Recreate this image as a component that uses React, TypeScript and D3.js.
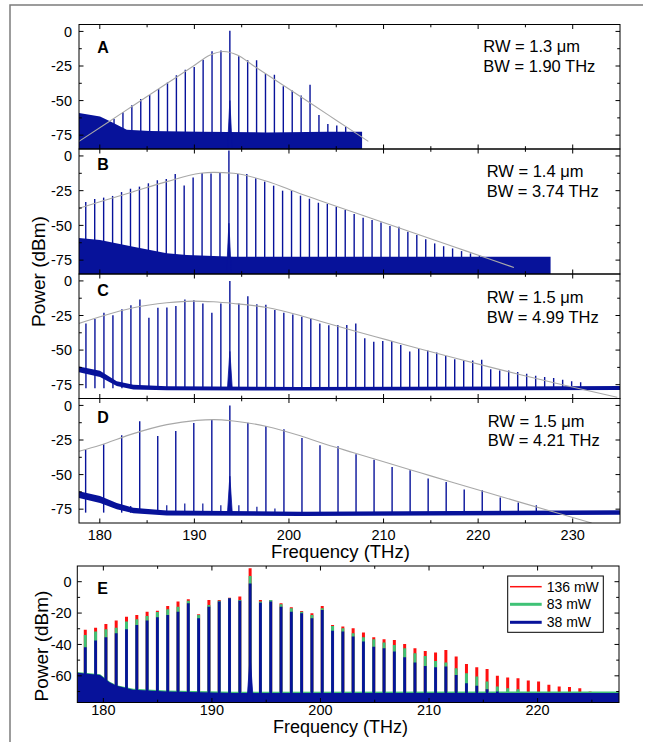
import React from "react";
import * as d3 from "d3";

type Pt = [number, number];

const FONT = "'Liberation Sans', Arial, Helvetica, sans-serif";
const BLUE = "#07129a";
const GRAY = "#a8a8a8";

// ---------- panel A (RW 1.3 um) ----------
const pumpA = 193.75;
const fsrA = 0.942;
const startA = -13;
const combA = [-63.3, -58.5, -53.4, -48.8, -45.9, -41.7, -36.9, -31.6, -27.7, -25.7, -20.4, -14.3, -13.8, 0.5,
  -18, -20.9, -20.9, -30.6, -31.3, -39.6, -42.7, -46.4, -38.6, -60.4, -67, -68, -69];
const noiseFreqA = [177.8, 180.02, 181.08, 182.85, 185.3, 190.6, 197.67, 204.02, 207.73];
const noiseTopA = [-59, -61.5, -65, -71, -72, -72.5, -73, -72.5, -72.5];
const envA: Pt[] = [[177.8, -79.5], [181.08, -64.7], [183.55, -53.6], [187.08, -37.7], [189.9, -25], [191.67, -17],
  [193.1, -14.5], [194.53, -17], [196.29, -25], [199.11, -37.7], [202.65, -53.6], [205.11, -64.7], [208.39, -79.5]];

// ---------- panel B (RW 1.4 um) ----------
const pumpB = 193.65;
const fsrB = 0.946;
const startB = -16;
const combB = [-33.2, -31, -30, -28.8, -26, -23.6, -22.1, -19.7, -17.5, -16.6, -13, -21.2, -15.6, -12.3, -12.7, -12, 4,
  -13, -13, -16.1, -18.5, -21.4, -25, -25, -28.6, -30.8, -33.7, -34.5,
  -36.5, -38.9, -41.8, -44.5, -46.2, -48, -50.5, -51, -54.6, -57, -60, -63, -65, -66.6, -68.5, -70.2, -71.4];
const noiseFreqB = [177.8, 180.02, 183.55, 187.08, 189.2, 194.14, 227.66];
const noiseTopB = [-59, -60.6, -65.4, -70, -71.4, -72.6, -72.5];
const envB: Pt[] = [[177.8, -37.7], [180.02, -33], [183.55, -25.7], [187.08, -18.5], [190.61, -12.5], [192.02, -11.8],
  [194.13, -12.5], [197.67, -18.2], [201.2, -27.2], [203.31, -32.2], [206.84, -40.5], [210.37, -48.8], [213.9, -57.1],
  [217.43, -65.4], [220.96, -73.7], [223.78, -80.3]];

// ---------- panel C (RW 1.5 um) ----------
const pumpC = 193.75;
const fsrC = 0.951;
const startC = -16;
const combC = [-30.7, -27.6, -23, -24.9, -20.4, -17.5, -13.4, -26.6, -19.4, -19.2, -18.2, -13.4, -13.9, -16.3, -23, -16.3, 0,
  -16.3, -11, -16.8, -17.3, -21.1, -23, -24.2, -25.9, -27.1, -30.7, -32,
  -31.9, -31.9, -30.7, -41.5, -43.9, -43.4, -43.4, -46.3, -51, -49.1, -50.3, -51.8, -54.2, -56.6, -57.5, -57.5, -57,
  -63.8, -64.7, -64.7, -65.9, -67.1, -68.6, -69.5, -70.2, -71.4, -72.6, -73.3];
const noiseFreqC = [177.8, 180.02, 181.79, 183.55, 187.08, 201.2, 235.1];
const noiseTopC = [-61.8, -65, -72.5, -75, -76.2, -76.7, -76];
const noiseBotC = [-66, -69.5, -76, -78.5, -79, -79.3, -78.8];
const envC: Pt[] = [[177.8, -30.7], [180.02, -25.9], [183.55, -19.4], [187.08, -15.8], [189.9, -14.6], [192.02, -15.1],
  [194.13, -16.3], [197.67, -19.2], [201.2, -25], [203.31, -29.2], [206.84, -36], [210.37, -42.6], [213.9, -49.2],
  [217.43, -55.6], [220.96, -61.8], [224.49, -67.8], [228.01, -73.6], [231.55, -79.2], [234.72, -84.1]];

// ---------- panel D (RW 1.5 um, double spacing) ----------
const pumpD = 193.75;
const fsrD = 1.906;
const startD = -8;
const combD = [-32, -28.1, -21.6, -11.5, -22.1, -18.5, -12.7, -10.3, 0,
  -12.5, -14.9, -17.3, -23.6, -28.8, -29.5, -35.3, -39.2, -44.5, -46.9, -52.9, -55.3, -60.8, -61.3, -66.6, -70.2, -72.1];
const subLinesD: Pt[] = [[-5.5, -72.8], [-3.5, -72.1], [-2.5, -70.9], [-1.5, -70.9], [-0.5, -72.1], [0.5, -72.1],
  [1.5, -73.3], [2.5, -74.5]];
const noiseFreqD = [177.8, 180.02, 181.79, 183.55, 187.08, 201.2, 235.1];
const noiseTopD = [-62, -65.5, -70.5, -74, -76, -76.8, -75.8];
const noiseBotD = [-67, -70.5, -75, -78, -79.5, -80, -79];
const envD: Pt[] = [[177.8, -33.2], [180.02, -28.8], [183.55, -20.4], [187.08, -13.9], [190.25, -10.8], [192.02, -10.3],
  [194.13, -11.3], [197.67, -15.2], [201.2, -22], [203.31, -26.8], [206.84, -34.2], [210.37, -41.5], [213.9, -48.7],
  [217.43, -55.9], [220.96, -63], [224.49, -70.1], [228.01, -77.1], [232, -85]];

// ---------- panel E (pump power series) ----------
const pumpE = 193.52;
const fsrE = 0.949;
const startE = -16;
const powerLabels = ["136 mW", "83 mW", "38 mW"];
const combE136 = [-30.7, -29.3, -26.9, -24.8, -22.3, -21.2, -19.1, -18.5, -15.5, -12.7, -11.2, -20.8, -11.7, -11.7, -10.2, -9.5, 8.5,
  -11.7, -11.7, -13.8, -16.3, -18.7, -20.1, -15.5,
  -27.6, -28.6, -29.7, -32.4, -35.4, -36.7, -37.1, -39.7, -42.4, -44.1, -45.2, -43.5, -47.7, -52.4, -54.5, -55.6,
  -60, -61.1, -61.5, -63, -63.6, -65.7, -66.8, -67.2, -67.9, -70, -70.6, -70.6];
const combE83 = [-33.9, -31.8, -30.3, -29.3, -25.4, -24, -21.8, -19.3, -17.6, -15.9, -12.1, -21.2, -14.8, -12.1, -10.6, -11.7, 3.6,
  -12.7, -11.7, -14.4, -17, -19.1, -21.2, -17,
  -28.2, -29.7, -32.9, -35.4, -36.7, -38.8, -40.3, -42.4, -45.6, -47.3, -50.5, -51.5, -55.1, -58.3, -60.4, -63.6,
  -66.8, -67.9, -68.5];
const combE38 = [-41.8, -37.5, -35.4, -32.9, -30.3, -27.6, -24.8, -22.7, -21.2, -19.1, -13.8, -23.3, -15.9, -12.7, -10.6, -12.1, -1.1,
  -13.4, -12.7, -15.9, -19.1, -20.1, -23.3, -18,
  -31.2, -31.8, -35, -38.2, -41.4, -42.4, -44.5, -48.1, -51.5, -53.7, -54.5, -54.1, -59.4, -64.7, -66.4, -68.5, -70];
const noiseFreqE = [177.6, 179.7, 180.6, 181.23, 182.76, 185.84, 191.98, 227.5];
const noiseTopE136 = [-58, -59.5, -64.2, -66.3, -68.7, -69.8, -70.5, -70.4];
const noiseTopE83 = [-57.5, -59, -63.8, -66, -68.3, -69.4, -70.2, -70];
const noiseTopE38 = [-58, -59.4, -64.3, -66.4, -68.9, -70, -71, -71];

// ---------- axes ----------
const freqTicksABCD = [180, 190, 200, 210, 220, 230];
const freqMinorABCD = [185, 195, 205, 215, 225];
const dbTicksABCD = [0, -25, -50, -75];
const dbMinorABCD = [-12.5, -37.5, -62.5];
const freqTicksE = [180, 190, 200, 210, 220];
const freqMinorE = [185, 195, 205, 215, 225];
const dbTicksE = [0, -20, -40, -60];
const dbMinorE = [-10, -30, -50, -70];

const xABCD = d3.scaleLinear().domain([177.8, 235]).range([79, 620]);
const xE = d3.scaleLinear().domain([177.6, 227.5]).range([77.3, 619]);

const panels = [
  { key: "A", top: 24.5, bottom: 149, pump: pumpA, fsr: fsrA, start: startA, comb: combA, nf: noiseFreqA, nt: noiseTopA, nb: null as number[] | null, env: envA, bump: -50, rw: "1.3", bw: "1.90", ly: 53.3, ax: 483.3, ay: 52.3 },
  { key: "B", top: 149, bottom: 274, pump: pumpB, fsr: fsrB, start: startB, comb: combB, nf: noiseFreqB, nt: noiseTopB, nb: null, env: envB, bump: -48.5, rw: "1.4", bw: "3.74", ly: 170, ax: 486.7, ay: 177.3 },
  { key: "C", top: 274, bottom: 398.5, pump: pumpC, fsr: fsrC, start: startC, comb: combC, nf: noiseFreqC, nt: noiseTopC, nb: noiseBotC, env: envC, bump: -51, rw: "1.5", bw: "4.99", ly: 296, ax: 486.7, ay: 303.3 },
  { key: "D", top: 398.5, bottom: 523, pump: pumpD, fsr: fsrD, start: startD, comb: combD, nf: noiseFreqD, nt: noiseTopD, nb: noiseBotD, env: envD, bump: -51.2, rw: "1.5", bw: "4.21", ly: 423.3, ax: 487.7, ay: 426.7 },
];

function Ticks({ x, y, x0, x1, y0, y1, xMaj, xMin, yMaj, yMin }: any) {
  const M = 4.5, m = 2.8;
  const segs: string[] = [];
  xMaj.forEach((t: number) => { const px = x(t); segs.push(`M${px},${y1}v${M}M${px},${y0}v${-M}`); });
  xMin.forEach((t: number) => { const px = x(t); segs.push(`M${px},${y1}v${m}M${px},${y0}v${-m}`); });
  yMaj.forEach((t: number) => { const py = y(t); segs.push(`M${x0},${py}h${M}M${x1},${py}h${-M}`); });
  yMin.forEach((t: number) => { const py = y(t); segs.push(`M${x0},${py}h${m}M${x1},${py}h${-m}`); });
  return <path d={segs.join("")} stroke="#000" strokeWidth={1} fill="none" />;
}

function Panel({ p, last }: { p: typeof panels[number]; last: boolean }) {
  const x = xABCD;
  const y = d3.scaleLinear().domain([-85, 5]).range([p.bottom, p.top]);
  const [x0, x1] = x.range();
  const clip = `clip-${p.key}`;
  const base = p.nb ? -77.5 : -85;
  const noise = p.nf.map((f, i) => [f, p.nt[i], p.nb ? p.nb[i] : -85]);
  const area = d3.area<number[]>().x((d) => x(d[0])).y0((d) => y(d[2])).y1((d) => y(d[1]));
  const env = d3.line<Pt>().x((d) => x(d[0])).y((d) => y(d[1])).curve(d3.curveMonotoneX);
  const bump: Pt[] = [[p.pump - 0.25, base], [p.pump, p.bump], [p.pump + 0.25, base]];
  const bumpLine = d3.line<Pt>().x((d) => x(d[0])).y((d) => y(d[1]));
  return (
    <g>
      <clipPath id={clip}><rect x={x0} y={p.top} width={x1 - x0} height={p.bottom - p.top} /></clipPath>
      <g clipPath={`url(#${clip})`}>
        {p.comb.map((db, i) => {
          const px = x(p.pump + (p.start + i) * p.fsr);
          return <line key={i} x1={px} x2={px} y1={y(base)} y2={y(db)} stroke={BLUE} strokeWidth={1.4} />;
        })}
        {p.key === "D" && subLinesD.map(([n, db], i) => {
          const px = x(p.pump + n * p.fsr);
          return <line key={"s" + i} x1={px} x2={px} y1={y(base)} y2={y(db)} stroke={BLUE} strokeWidth={1.2} />;
        })}
        <path d={area(noise) || ""} fill={BLUE} />
        <path d={bumpLine(bump) || ""} fill={BLUE} stroke={BLUE} strokeWidth={0.8} />
        <path d={env(p.env) || ""} fill="none" stroke={GRAY} strokeWidth={1.1} />
      </g>
      <rect x={x0} y={p.top} width={x1 - x0} height={p.bottom - p.top} fill="none" stroke="#000" strokeWidth={1} />
      <Ticks x={x} y={y} x0={x0} x1={x1} y0={p.bottom} y1={p.top} xMaj={freqTicksABCD} xMin={freqMinorABCD} yMaj={dbTicksABCD} yMin={dbMinorABCD} />
      {dbTicksABCD.map((t) => (
        <text key={t} x={72} y={y(t)} dy="0.36em" textAnchor="end" fontSize={14.5}>{t}</text>
      ))}
      <text x={97.3} y={p.ly} fontSize={16} fontWeight="bold">{p.key}</text>
      <text x={p.ax} y={p.ay} fontSize={16.5}>RW = {p.rw} μm</text>
      <text x={p.ax} y={p.ay + 19.4} fontSize={16.5}>BW = {p.bw} THz</text>
      {last && freqTicksABCD.map((t) => (
        <text key={t} x={x(t)} y={539.5} textAnchor="middle" fontSize={14.5}>{t}</text>
      ))}
    </g>
  );
}

function PanelE() {
  const x = xE;
  const top = 566, bottom = 702.5;
  const y = d3.scaleLinear().domain([-77, 10]).range([bottom, top]);
  const [x0, x1] = x.range();
  const series = [
    { comb: combE136, noise: noiseTopE136, color: "#ff1010", w: 3 },
    { comb: combE83, noise: noiseTopE83, color: "#3fc276", w: 3 },
    { comb: combE38, noise: noiseTopE38, color: BLUE, w: 2.8 },
  ];
  const area = d3.area<number>().x((_, i) => x(noiseFreqE[i])).y0(bottom);
  const bump: Pt[] = [[pumpE - 0.3, -77], [pumpE, -47.7], [pumpE + 0.3, -77]];
  const bumpLine = d3.line<Pt>().x((d) => x(d[0])).y((d) => y(d[1]));
  const legendRows = [586.7, 604.3, 622.3];
  return (
    <g>
      <clipPath id="clip-E"><rect x={x0} y={top} width={x1 - x0} height={bottom - top} /></clipPath>
      <g clipPath="url(#clip-E)">
        {series.map((s, si) => (
          <g key={si}>
            {s.comb.map((db, i) => {
              const px = x(pumpE + (startE + i) * fsrE);
              return <line key={i} x1={px} x2={px} y1={bottom} y2={y(db)} stroke={s.color} strokeWidth={s.w} />;
            })}
            <path d={area.y1((d) => y(d))(s.noise) || ""} fill={s.color} />
          </g>
        ))}
        <path d={bumpLine(bump) || ""} fill={BLUE} stroke={BLUE} strokeWidth={0.8} />
      </g>
      <rect x={x0} y={top} width={x1 - x0} height={bottom - top} fill="none" stroke="#000" strokeWidth={1} />
      <Ticks x={x} y={y} x0={x0} x1={x1} y0={bottom} y1={top} xMaj={freqTicksE} xMin={freqMinorE} yMaj={dbTicksE} yMin={dbMinorE} />
      {dbTicksE.map((t) => (
        <text key={t} x={71.7} y={y(t)} dy="0.36em" textAnchor="end" fontSize={14.5}>{t}</text>
      ))}
      {freqTicksE.map((t) => (
        <text key={t} x={x(t)} y={714.5} textAnchor="middle" fontSize={14.5}>{t}</text>
      ))}
      <text x={97.3} y={594.3} fontSize={16} fontWeight="bold">E</text>
      <rect x={507.7} y={576} width={95.6} height={56.3} fill="#fff" stroke="#000" strokeWidth={1} />
      {series.map((s, i) => (
        <g key={i}>
          <line x1={510} x2={541.7} y1={legendRows[i]} y2={legendRows[i]} stroke={s.color} strokeWidth={i === 0 ? 1.5 : 3} />
          <text x={546.7} y={legendRows[i]} dy="0.36em" fontSize={14}>{powerLabels[i]}</text>
        </g>
      ))}
    </g>
  );
}

export default function App() {
  return (
    <svg width={646} height={742} style={{ position: "absolute", left: 0, top: 0, background: "#fff" }}
      fontFamily={FONT}>
      <rect width={646} height={742} fill="#fff" />
      <path d="M10,742V5H643" fill="none" stroke="#7c7c7c" strokeWidth={1.5} />
      {panels.map((p, i) => <Panel key={p.key} p={p} last={i === panels.length - 1} />)}
      <text x={340.5} y={558} textAnchor="middle" fontSize={18.5}>Frequency (THz)</text>
      <text transform="translate(44.5,271.5) rotate(-90)" textAnchor="middle" fontSize={19}>Power (dBm)</text>
      <PanelE />
      <text x={340.5} y={732.5} textAnchor="middle" fontSize={18}>Frequency (THz)</text>
      <text transform="translate(48,646) rotate(-90)" textAnchor="middle" fontSize={19}>Power (dBm)</text>
    </svg>
  );
}
